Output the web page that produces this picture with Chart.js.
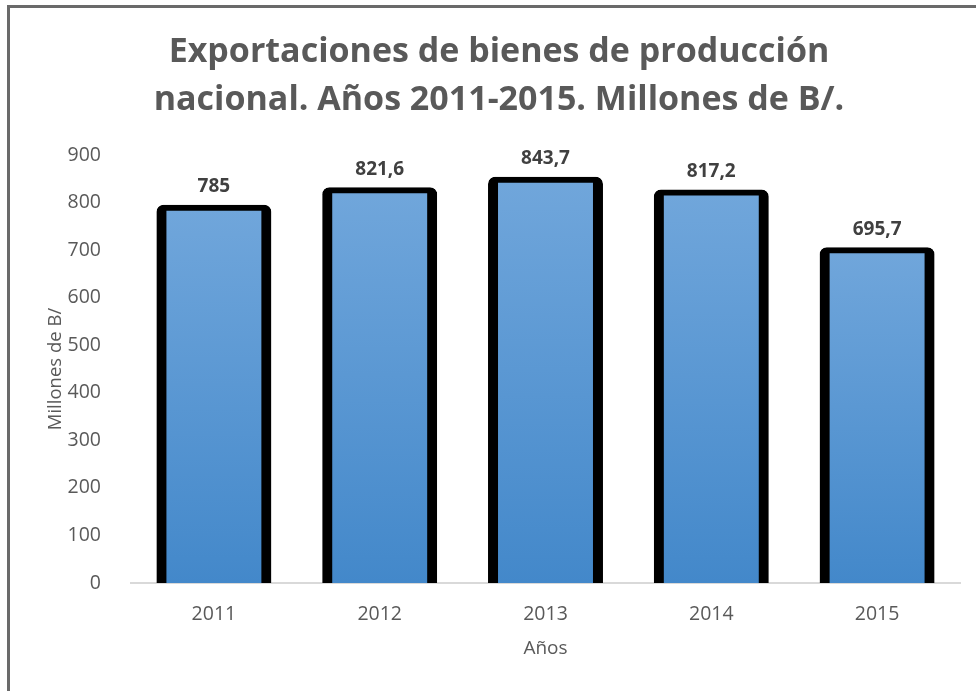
<!DOCTYPE html>
<html>
<head>
<meta charset="utf-8">
<script src="https://cdn.jsdelivr.net/npm/chart.js@4/dist/chart.umd.min.js"></script>
<style>
  html, body { margin: 0; padding: 0; background: #ffffff; }
  #wrap { position: relative; width: 976px; height: 691px; overflow: hidden; }
  #frame { position: absolute; left: 7px; top: 5px; width: 1000px; height: 1000px;
           border-top: 3px solid #6a6a6a; border-left: 3px solid #6a6a6a; box-sizing: border-box; pointer-events: none; }
  canvas { position: absolute; left: 0; top: 0; }
</style>
</head>
<body>
<div id="wrap">
  <canvas id="c" width="976" height="691"></canvas>
  <div id="frame"></div>
</div>
<script>
const categories = ['2011', '2012', '2013', '2014', '2015'];
const values = [785, 821.6, 843.7, 817.2, 695.7];
const valueLabels = ['785', '821,6', '843,7', '817,2', '695,7'];
const titleLines = ['Exportaciones de bienes de producción', 'nacional. Años 2011-2015. Millones de B/.'];
const yAxisTitle = 'Millones de B/';
const xAxisTitle = 'Años';

const FONT = "'Open Sans', 'DejaVu Sans', sans-serif";
Chart.defaults.font.family = FONT;
Chart.defaults.color = '#595959';

const labelPlugin = {
  id: 'valueLabels',
  afterDatasetsDraw(chart) {
    const ctx = chart.ctx;
    const meta = chart.getDatasetMeta(0);
    ctx.save();
    ctx.font = "bold 19px " + FONT;
    ctx.fillStyle = '#404040';
    ctx.textAlign = 'center';
    ctx.textBaseline = 'middle';
    meta.data.forEach((bar, i) => {
      ctx.fillText(valueLabels[i], bar.x, bar.y - 23);
    });
    ctx.restore();
  }
};

const titlePlugin = {
  id: 'customTitle',
  afterDraw(chart) {
    const ctx = chart.ctx;
    ctx.save();
    ctx.font = "bold 34px " + FONT;
    ctx.fillStyle = '#595959';
    ctx.textAlign = 'center';
    ctx.textBaseline = 'middle';
    titleLines.forEach((line, i) => {
      ctx.fillText(line, 499, 52 + i * 48);
    });
    ctx.restore();
  }
};

function barGradient(context) {
  const chart = context.chart;
  const y = chart.scales.y;
  if (!y || !chart.chartArea) return '#5b9bd5';
  const top = y.getPixelForValue(context.raw);
  const base = y.getPixelForValue(0);
  const g = chart.ctx.createLinearGradient(0, top, 0, base);
  g.addColorStop(0, '#70a6db');
  g.addColorStop(1, '#4388ca');
  return g;
}

new Chart(document.getElementById('c'), {
  type: 'bar',
  data: {
    labels: categories,
    datasets: [{
      data: values,
      backgroundColor: barGradient,
      borderColor: '#000000',
      borderWidth: { top: 6, left: 10, right: 10, bottom: 0 },
      borderRadius: { topLeft: 7, topRight: 7, bottomLeft: 0, bottomRight: 0 },
      borderSkipped: 'bottom',
      inflateAmount: 5,
      categoryPercentage: 1,
      barPercentage: 0.633
    }]
  },
  options: {
    responsive: false,
    animation: false,
    layout: { padding: { left: 0, right: 16, top: 155, bottom: 0 } },
    plugins: {
      legend: { display: false },
      tooltip: { enabled: false },
      title: { display: false }
    },
    scales: {
      x: {
        grid: { display: false },
        border: { display: true, color: '#d9d9d9', width: 2 },
        ticks: { color: '#595959', font: { size: 19.5 }, padding: 12 },
        title: { display: true, text: xAxisTitle, color: '#595959', font: { size: 19 }, padding: { top: 0, bottom: 31 } },
        afterFit(scale) { scale.height = 108; }
      },
      y: {
        min: 0, max: 900,
        grid: { display: false },
        border: { display: false },
        ticks: { stepSize: 100, color: '#595959', font: { size: 19.5 }, padding: 22 },
        title: { display: true, text: yAxisTitle, color: '#595959', font: { size: 18.5 }, padding: { top: 45, bottom: 0 } },
        afterFit(scale) { scale.width = 131; }
      }
    }
  },
  plugins: [labelPlugin, titlePlugin]
});
</script>
</body>
</html>
